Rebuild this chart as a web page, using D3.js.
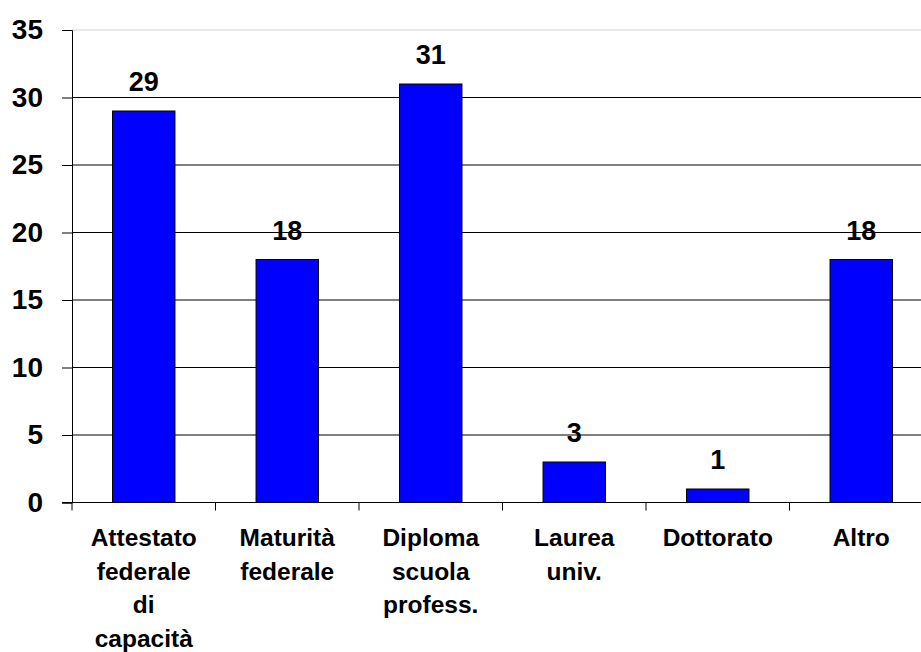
<!DOCTYPE html>
<html>
<head>
<meta charset="utf-8">
<script src="https://cdn.jsdelivr.net/npm/d3@7"></script>
<style>
  body { margin: 0; background: #fff; }
  text { font-family: "Liberation Sans", Arial, sans-serif; font-weight: bold; fill: #000; }
</style>
</head>
<body>
<div id="chart"></div>
<script>
// categories (label lines) and values
var categories = [
    ["Attestato", "federale", "di", "capacità"],
    ["Maturità", "federale"],
    ["Diploma", "scuola", "profess."],
    ["Laurea", "univ."],
    ["Dottorato"],
    ["Altro"]
];
var values = [29, 18, 31, 3, 1, 18];
var yTicks = [0, 5, 10, 15, 20, 25, 30, 35];

var width = 921, height = 652;
var margin = { top: 30, left: 72 };
var step = 143.5;
var plotH = 472.5;

var svg = d3.select("#chart").append("svg")
    .attr("width", width)
    .attr("height", height);

var idx = values.map(function (d, i) { return i; });

// set the ranges
var x = d3.scaleBand()
    .domain(idx)
    .range([margin.left, margin.left + step * idx.length])
    .paddingInner(0.565)
    .paddingOuter(0.2825);
var y = d3.scaleLinear().domain([0, 35]).range([margin.top + plotH, margin.top]);

// grid lines
svg.append("g").selectAll("line")
    .data(yTicks.filter(function (d) { return d > 0; }))
    .enter().append("line")
    .attr("x1", margin.left)
    .attr("x2", width)
    .attr("y1", function (d) { return y(d); })
    .attr("y2", function (d) { return y(d); })
    .style("stroke", function (d) { return d === 35 ? "#d0d0d0" : "#000"; })
    .style("stroke-width", 1);

// bars
svg.append("g").selectAll("rect")
    .data(values)
    .enter().append("rect")
    .attr("x", function (d, i) { return x(i); })
    .attr("width", x.bandwidth())
    .attr("y", function (d) { return y(d); })
    .attr("height", function (d) { return y(0) - y(d); })
    .style("fill", "#0000ff")
    .style("stroke", "#000")
    .style("stroke-width", 1);

// value labels
svg.append("g").selectAll("text")
    .data(values)
    .enter().append("text")
    .attr("x", function (d, i) { return x(i) + x.bandwidth() / 2; })
    .attr("y", function (d) { return y(d) - 20; })
    .attr("text-anchor", "middle")
    .style("font-size", "27px")
    .text(function (d) { return d; });

// Y axis
var yAxis = svg.append("g")
    .attr("transform", "translate(" + margin.left + ",0)")
    .call(d3.axisLeft(y).tickValues(yTicks).tickSize(10).tickPadding(19));
yAxis.select(".domain").attr("stroke", "#000");
yAxis.selectAll("text")
    .style("font-size", "28px")
    .style("font-family", "'Liberation Sans', Arial, sans-serif")
    .style("font-weight", "bold");

// X axis (ticks between categories)
var xEdges = d3.scaleLinear().domain([0, idx.length]).range([margin.left, margin.left + step * idx.length]);
var xAxis = svg.append("g")
    .attr("transform", "translate(0," + y(0) + ")");
xAxis.append("line")
    .attr("x1", margin.left - 10)
    .attr("x2", width)
    .style("stroke", "#000");
xAxis.selectAll(".tk")
    .data(d3.range(idx.length + 1))
    .enter().append("line")
    .attr("class", "tk")
    .attr("x1", function (d) { return xEdges(d); })
    .attr("x2", function (d) { return xEdges(d); })
    .attr("y1", 0)
    .attr("y2", 8)
    .style("stroke", "#000");

// category labels
var cat = svg.append("g").selectAll("text")
    .data(categories)
    .enter().append("text")
    .attr("text-anchor", "middle")
    .attr("y", 546)
    .style("font-size", "24.5px");
cat.selectAll("tspan")
    .data(function (d, i) { return d.map(function (s) { return { s: s, i: i }; }); })
    .enter().append("tspan")
    .attr("x", function (d) { return x(d.i) + x.bandwidth() / 2; })
    .attr("dy", function (d, j) { return j === 0 ? 0 : 33.5; })
    .text(function (d) { return d.s; });
</script>
</body>
</html>
